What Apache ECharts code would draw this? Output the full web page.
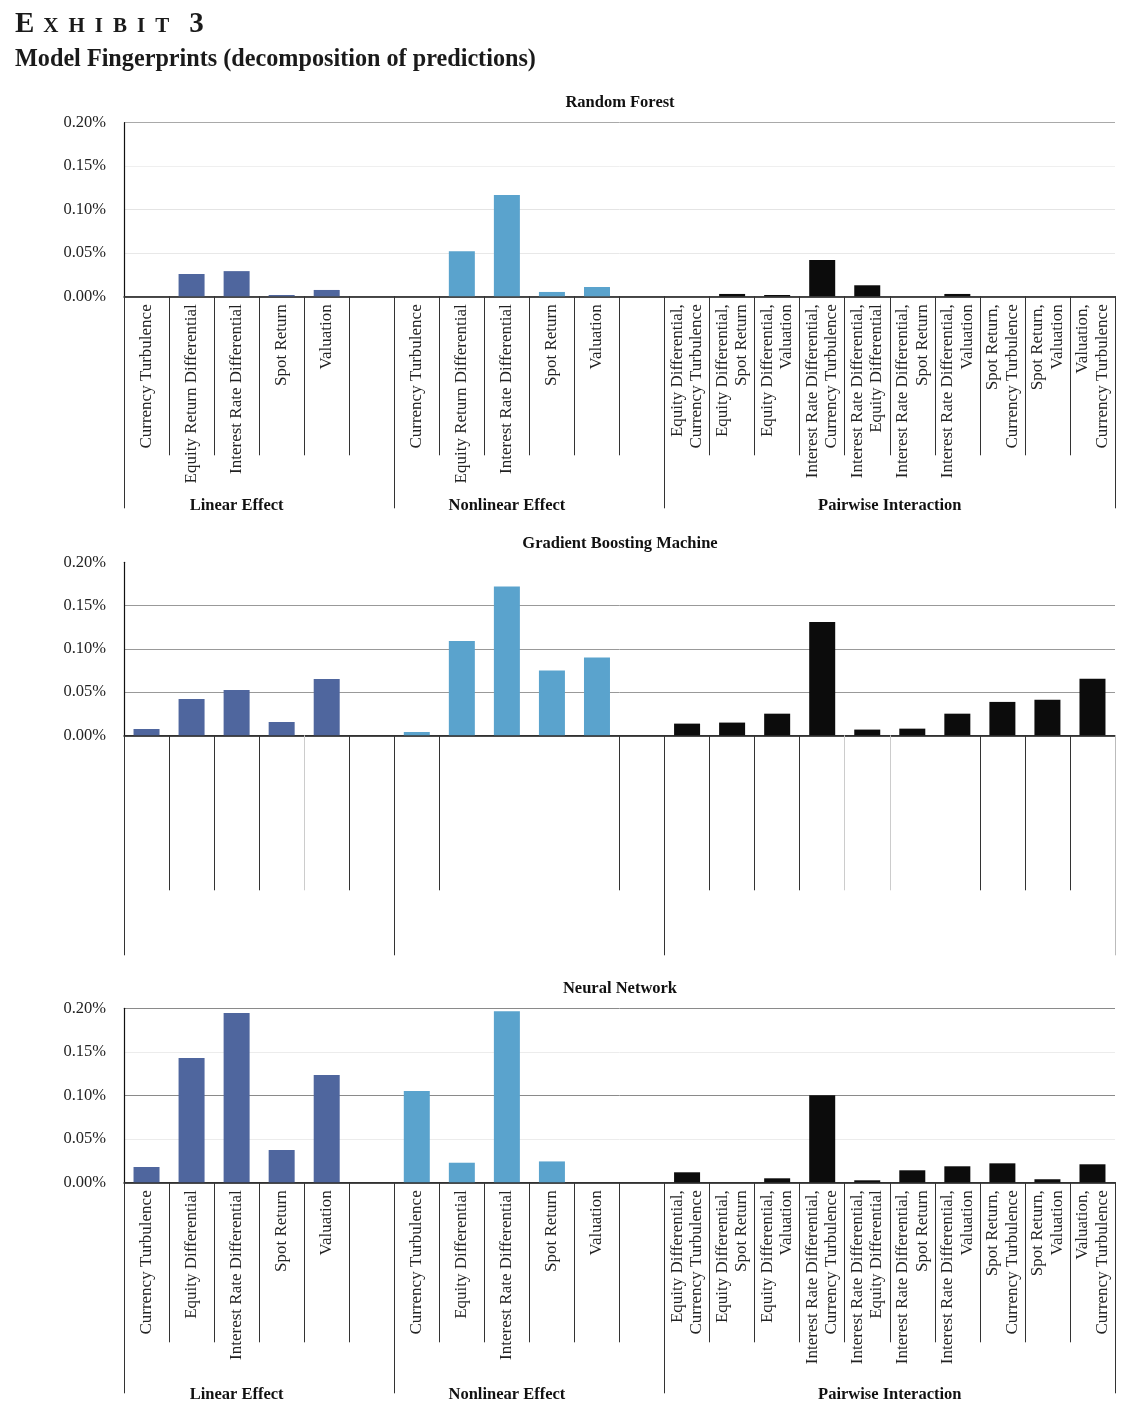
<!DOCTYPE html>
<html><head><meta charset="utf-8">
<script src="https://cdn.jsdelivr.net/npm/echarts@6/dist/echarts.min.js"></script>
<style>html,body{margin:0;padding:0;background:#fff}#c{width:1146px;height:1420px}</style>
</head><body><div id="c"></div>
<script>
// ---------- data ----------
const linearNamesRF = ['Currency Turbulence','Equity Return Differential','Interest Rate Differential','Spot Return','Valuation'];
const linearNamesNN = ['Currency Turbulence','Equity Differential','Interest Rate Differential','Spot Return','Valuation'];
const pairNames = [
  'Equity Differential,\nCurrency Turbulence',
  'Equity Differential,\nSpot Return',
  'Equity Differential,\nValuation',
  'Interest Rate Differential,\nCurrency Turbulence',
  'Interest Rate Differential,\nEquity Differential',
  'Interest Rate Differential,\nSpot Return',
  'Interest Rate Differential,\nValuation',
  'Spot Return,\nCurrency Turbulence',
  'Spot Return,\nValuation',
  'Valuation,\nCurrency Turbulence'
];
const groupNames = ['Linear Effect','Nonlinear Effect','Pairwise Interaction'];
const panelTitles = ['Random Forest','Gradient Boosting Machine','Neural Network'];
const yTickValues = [0, 0.05, 0.10, 0.15, 0.20];

// values in percent
const rfLinear    = [0, 0.0257, 0.029, 0.0015, 0.0073];
const rfNonlinear = [0, 0.052, 0.1167, 0.005, 0.0107];
const rfPairwise  = [0, 0.0027, 0.0015, 0.0418, 0.0127, 0, 0.0027, 0, 0, 0];
const gbmLinear    = [0.0073, 0.042, 0.0524, 0.0154, 0.065];
const gbmNonlinear = [0.0038, 0.109, 0.172, 0.075, 0.09];
const gbmPairwise  = [0.0135, 0.0147, 0.025, 0.131, 0.0066, 0.0077, 0.025, 0.0386, 0.041, 0.0655];
const nnLinear    = [0.0176, 0.143, 0.1946, 0.0371, 0.1233];
const nnNonlinear = [0.105, 0.0225, 0.1966, 0.024, 0];
const nnPairwise  = [0.0115, 0, 0.0046, 0.100, 0.0023, 0.0138, 0.0184, 0.0218, 0.0035, 0.0207];

// ---------- build ----------
function buildCats(lin){ return [...lin, '', ...lin, '', ...pairNames]; }
const panels = [
  {cats: buildCats(linearNamesRF), groups: [rfLinear, rfNonlinear, rfPairwise]},
  {cats: buildCats(linearNamesRF), groups: [gbmLinear, gbmNonlinear, gbmPairwise]},
  {cats: buildCats(linearNamesNN), groups: [nnLinear, nnNonlinear, nnPairwise]}
];
const N = panels[0].cats.length;
const groupStarts = [0, linearNamesRF.length + 1, 2 * (linearNamesRF.length + 1)];
const groupSizes = [linearNamesRF.length, linearNamesRF.length, pairNames.length];
const groupCenters = groupStarts.map((s, k) => s + groupSizes[k] / 2);
const groupBounds = [...groupStarts, N];
const allBounds = Array.from({length: N + 1}, (_, k) => k);

// ---------- styling / layout ----------
const font = 'Liberation Serif';
const colors = ['#4f669e', '#5aa3cd', '#0c0c0c'];
const DARK = '#333333', LIGHT = '#cccccc';
const layout = [
  {top:122.7, height:173.6, gmargin:201, labels:true,
   split:['#dddddd','#e8e8e8','#e4e4e4','#efefef','#a9a9a9'], titleY:103,
   ticks:[{values:allBounds, length:159, color:DARK}, {values:groupBounds, length:212, color:DARK}]},
  {top:562.3, height:173, gmargin:200, labels:false,
   split:['#999999','#999999','#999999','#999999','rgba(0,0,0,0)'], titleY:544,
   ticks:[{values:[1,2,3,5,7,11,13,14,15,19,20,21], length:155, color:DARK},
          {values:[4,16,17], length:155, color:LIGHT},
          {values:[0,6,12], length:220, color:DARK},
          {values:[22], length:220, color:'#bbbbbb'}]},
  {top:1008.3, height:174, gmargin:204, labels:true,
   split:['#999999','#ececec','#8a8a8a','#ececec','#8a8a8a'], titleY:989,
   ticks:[{values:allBounds, length:160, color:DARK}, {values:groupBounds, length:211, color:DARK}]}
];

function place(vals, start){
  const a = new Array(N).fill('-');
  vals.forEach((v, i) => { a[start + i] = v; });
  return a;
}

const grid = [], xAxis = [], yAxis = [], series = [], graphic = [];
panels.forEach((p, i) => {
  const L = layout[i];
  grid.push({left:124, right:31, top:L.top, height:L.height});
  const catIndex = xAxis.length;
  xAxis.push({
    type:'category', gridIndex:i, data:p.cats, position:'bottom',
    axisLine:{show:true, lineStyle:{color:'#111', width:1.5}},
    axisTick:{show:false},
    axisLabel:{show:L.labels, interval:0, rotate:90, margin:8, fontFamily:font, fontSize:17, lineHeight:19.5, color:'#222'},
    splitLine:{show:false}
  });
  L.ticks.forEach(t => {
    xAxis.push({
      type:'value', gridIndex:i, min:0, max:N, position:'bottom',
      axisLine:{show:false}, splitLine:{show:false}, axisLabel:{show:false},
      axisTick:{show:true, customValues:t.values, length:t.length, lineStyle:{color:t.color, width:1}}
    });
  });
  xAxis.push({
    type:'value', gridIndex:i, min:0, max:N, position:'bottom',
    axisLine:{show:false}, splitLine:{show:false}, axisTick:{show:false},
    axisLabel:{show:L.labels, customValues:groupCenters, margin:L.gmargin,
      formatter:v => { const k = groupCenters.indexOf(v); return k >= 0 ? groupNames[k] : ''; },
      fontFamily:font, fontSize:16.5, fontWeight:'bold', color:'#111'}
  });
  yAxis.push({
    type:'value', gridIndex:i, min:yTickValues[0], max:yTickValues[yTickValues.length-1], interval:yTickValues[1],
    axisLine:{show:true, lineStyle:{color:'#111', width:1.2}},
    axisTick:{show:false},
    axisLabel:{formatter:v => v.toFixed(2) + '%', fontFamily:font, fontSize:16.5, color:'#222', margin:18},
    splitLine:{show:true, lineStyle:{color:L.split, width:1}}
  });
  p.groups.forEach((vals, j) => {
    series.push({
      type:'bar', xAxisIndex:catIndex, yAxisIndex:i, stack:'s'+i, barWidth:26,
      data:place(vals, groupStarts[j]), itemStyle:{color:colors[j]}, silent:true
    });
  });
  graphic.push({type:'text', x:620, y:L.titleY, style:{text:panelTitles[i], align:'center', verticalAlign:'middle',
    fontFamily:font, fontSize:16.5, fontWeight:'bold', fill:'#111'}});
});

graphic.push({type:'text', x:15, y:25, style:{
  text:'{a|E}{b|X}{b|H}{b|I}{b|B}{b|I}{t|T}{c|3}', verticalAlign:'middle', fill:'#1a1a1a',
  rich:{a:{fontFamily:font, fontSize:29, fontWeight:'bold', fill:'#1a1a1a', padding:[0,9,0,0], verticalAlign:'bottom'},
        b:{fontFamily:font, fontSize:21, fontWeight:'bold', fill:'#1a1a1a', padding:[0,10,2,0], verticalAlign:'bottom'},
        t:{fontFamily:font, fontSize:21, fontWeight:'bold', fill:'#1a1a1a', padding:[0,20,2,0], verticalAlign:'bottom'},
        c:{fontFamily:font, fontSize:29, fontWeight:'bold', fill:'#1a1a1a', verticalAlign:'bottom'}}}});
graphic.push({type:'text', x:15, y:60, style:{text:'Model Fingerprints (decomposition of predictions)',
  verticalAlign:'middle', fontFamily:font, fontSize:24.2, fontWeight:'bold', fill:'#1a1a1a'}});

const chart = echarts.init(document.getElementById('c'), null, {renderer:'canvas'});
chart.setOption({backgroundColor:'#ffffff', animation:false, grid, xAxis, yAxis, series, graphic});
</script></body></html>
